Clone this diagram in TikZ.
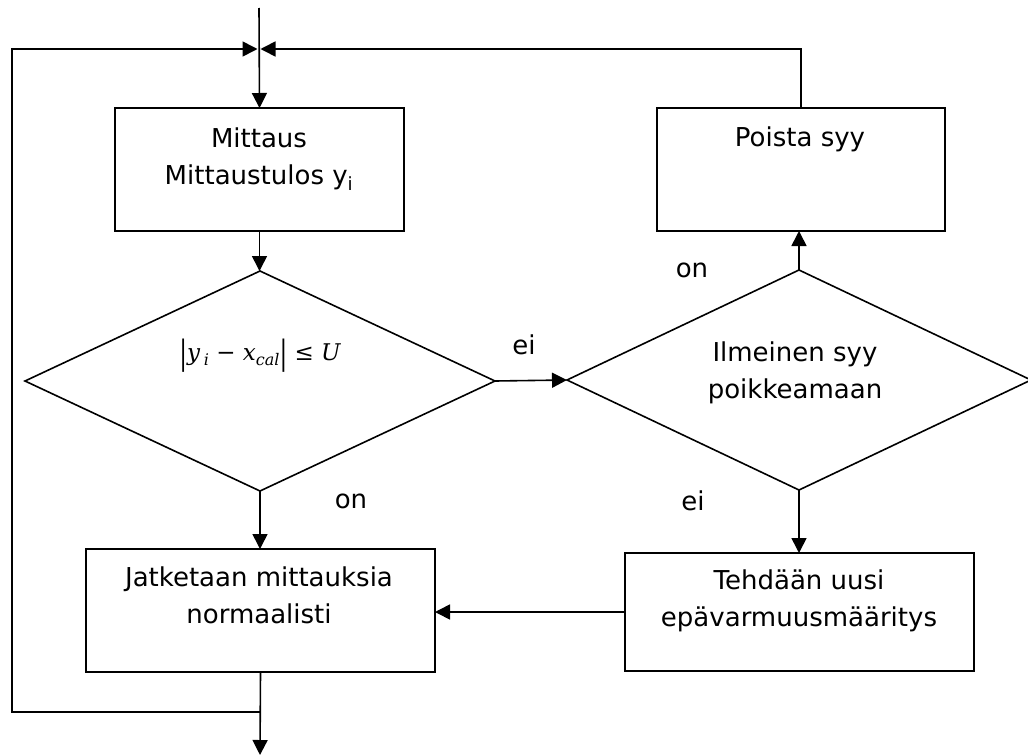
\documentclass[tikz,border=0pt]{standalone}
\usepackage{fontspec}
\usepackage{graphicx}
\setmainfont{DejaVu Sans}
\newfontfamily\frmfont{DejaVu Serif}
\newcommand\frmsub[1]{\raisebox{-5pt}{\fontsize{16}{16}\selectfont\itshape #1}}
\newcommand\frmbar{\raisebox{-4pt}{\scalebox{1}[1.45]{\upshape|}}}
\usetikzlibrary{shapes.geometric,arrows.meta}
\begin{document}
\begin{tikzpicture}[x=1pt,y=-1pt,
  every node/.style={inner sep=0pt, outer sep=0pt},
  txt/.style={font=\fontsize{26}{37}\selectfont, align=center},
  mathtxt/.style={font=\frmfont\fontsize{23}{30}\selectfont},
  boxs/.style={draw, line width=2pt, rectangle},
  dec/.style={draw, line width=1.6pt, diamond},
  conn/.style={line width=1.6pt},
  arr/.style={conn, -{Triangle[length=15pt,width=15pt]}}]
\useasboundingbox[fill=white] (0,0) rectangle (1028,755);

% boxes
\node[boxs, minimum width=289pt, minimum height=123pt] (mittaus) at (259.5,169.5) {};
\node[boxs, minimum width=288pt, minimum height=123pt] (poista) at (801,169.5) {};
\node[boxs, minimum width=349pt, minimum height=123pt] (jatk) at (260.5,610.5) {};
\node[boxs, minimum width=349pt, minimum height=118pt] (tehd) at (799.5,612) {};

% decisions
\node[dec, minimum width=470pt, minimum height=220pt] (d1) at (260,381) {};
\node[dec, minimum width=464pt, minimum height=220pt] (d2) at (799,380) {};

% texts
\node[txt, anchor=north] (mittausT) at (259,128) {Mittaus\\Mittaustulos y\textsubscript{i}};
\node[txt, anchor=north] (poistaT) at (800,127) {Poista syy};
\node[txt, anchor=north] (jatkT) at (259,567) {Jatketaan mittauksia\\normaalisti};
\node[txt, anchor=north] (tehdT) at (799,570) {Tehdään uusi\\epävarmuusmääritys};
\node[mathtxt] (d1T) at (260,356) {\frmbar{\itshape y}\,\frmsub{i}\ \upshape−\ {\itshape x}\frmsub{cal}\frmbar\ \upshape≤\ {\itshape U}};
\node[txt, anchor=north] (d2T) at (795,342) {Ilmeinen syy\\poikkeamaan};

% labels
\node[txt] (lblEi1) at (524,345) {ei};
\node[txt] (lblOn1) at (692,270) {on};
\node[txt] (lblOn2) at (351,501) {on};
\node[txt] (lblEi2) at (693,501) {ei};

% coordinates
\coordinate (in) at (259,8);
\coordinate (merge) at (259,49);
\coordinate (out) at (260,755);
\coordinate (loopR) at (260,712);
\coordinate (loopBL) at (12,712);
\coordinate (loopTL) at (12,49);
\coordinate (fbTR) at (801,49);

% connectors
\draw[arr] (in) -- (mittaus.north);
\draw[arr] (loopR) -- (loopBL) -- (loopTL) -- ([xshift=-1.5pt]merge);
\draw[arr] (poista.north) -- (fbTR) -- ([xshift=1.5pt]merge);
\draw[arr] (mittaus.south) -- (mittaus.south |- d1.north);
\draw[arr] (d1.east) -- (d2.west);
\draw[arr] (d2.north) -- (d2.north |- poista.south);
\draw[arr] (d2.south) -- (d2.south |- tehd.north);
\draw[arr] (d1.south) -- (d1.south |- jatk.north);
\draw[arr] (tehd.west) -- (tehd.west -| jatk.east);
\draw[arr] (jatk.south) -- (out);
\end{tikzpicture}
\end{document}
